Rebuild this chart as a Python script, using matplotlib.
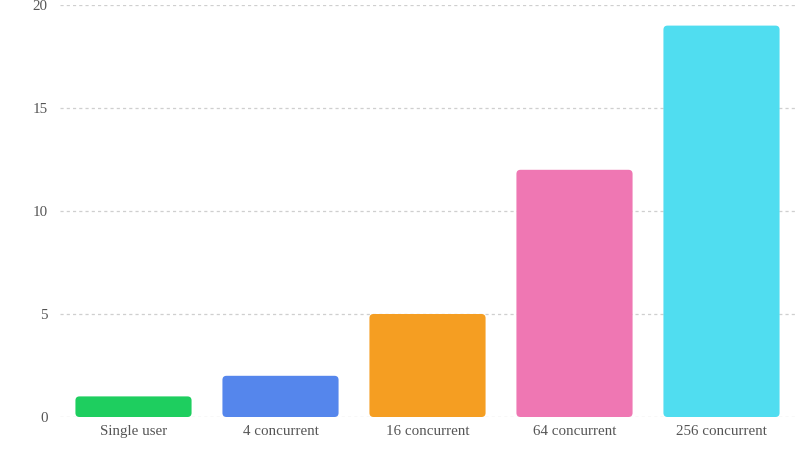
import matplotlib.pyplot as plt
from matplotlib.patches import FancyBboxPatch

# data
categories = ["Single user", "4 concurrent", "16 concurrent", "64 concurrent", "256 concurrent"]
values = [1, 2, 5, 12, 19]
colors = ["#1ece5f", "#5586ec", "#f59e22", "#ef77b3", "#50ddf0"]
yticks = [0, 5, 10, 15, 20]

plt.rcParams["font.family"] = ["Liberation Serif", "DejaVu Serif"]

fig = plt.figure(figsize=(7.99, 4.5), dpi=100)
ax = fig.add_axes([60 / 799, 33 / 450, 735 / 799, 412 / 450])

bars = ax.bar(range(len(categories)), values, width=0.79, color=colors)

# swap plain bars for rounded ones
for rect, c in zip(bars, colors):
    rect.set_visible(False)
    x, y = rect.get_x(), rect.get_y()
    w, h = rect.get_width(), rect.get_height()
    patch = FancyBboxPatch((x, y), w, h,
                           boxstyle="round,pad=0,rounding_size=0.028",
                           mutation_aspect=7.1, facecolor=c, edgecolor="none", zorder=2)
    ax.add_patch(patch)

ax.set_xlim(-0.5, len(categories) - 0.5)
ax.set_ylim(0, 20)
ax.set_yticks(yticks)
ax.set_xticks(range(len(categories)))
ax.set_xticklabels(categories)
ax.yaxis.grid(True, linestyle=(0, (2.5, 2.5)), color="#cfcfcf", linewidth=0.9, zorder=0)
ax.set_axisbelow(True)
for s in ax.spines.values():
    s.set_visible(False)
ax.tick_params(axis="both", length=0, labelsize=10.8, colors="#555555")
ax.tick_params(axis="y", pad=9)
ax.tick_params(axis="x", pad=6)

fig.savefig("out.png", dpi=100)
